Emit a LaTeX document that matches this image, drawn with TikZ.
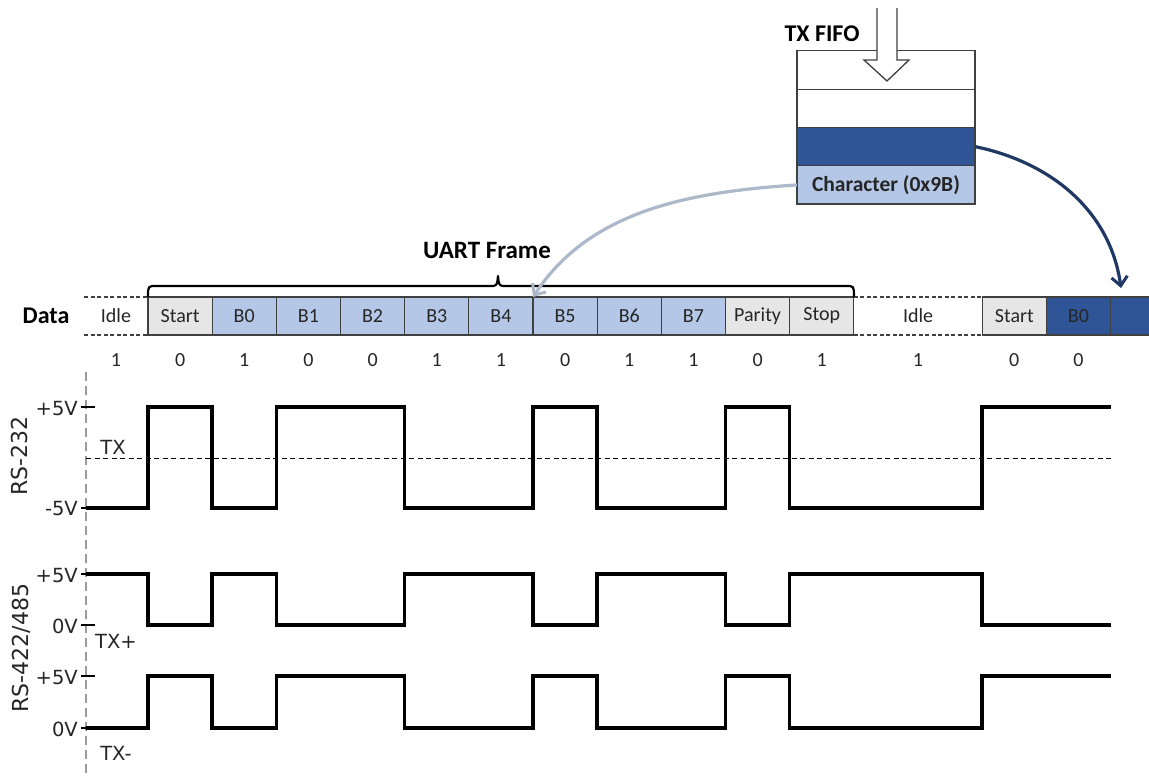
\documentclass[tikz,border=0pt]{standalone}
\usepackage{fontspec}
\setmainfont{Carlito}
\newfontfamily\dvs{DejaVu Sans}
\usetikzlibrary{arrows.meta}
\definecolor{lblue}{HTML}{B4C7E7}
\definecolor{dblue}{HTML}{2F5597}
\definecolor{lgray}{HTML}{E7E6E6}
\definecolor{bord}{HTML}{404040}
\definecolor{txt}{HTML}{262626}
\definecolor{arrdark}{HTML}{203864}
\definecolor{arrlight}{HTML}{ADB9CA}
\definecolor{vgray}{HTML}{9A9A9A}
\tikzset{
  cell/.style={draw=bord, line width=1.2pt, minimum width=64.17pt, minimum height=38pt,
    inner sep=0pt, outer sep=0pt, font=\fontsize{20}{22}\selectfont, text=txt},
  idlecell/.style={minimum height=38pt, inner sep=0pt, outer sep=0pt,
    font=\fontsize{20}{22}\selectfont, text=txt},
  num/.style={font=\fontsize{20}{22}\selectfont, text=txt, inner sep=0pt},
  fifo/.style={draw=bord, line width=1.2pt, minimum width=178pt, minimum height=38.3pt,
    inner sep=0pt, outer sep=0pt},
  wave/.style={line width=3.5pt, black},
  lab/.style={font=\dvs\fontsize{19.5}{21}\selectfont, text=txt, inner sep=0pt},
  tick/.style={line width=1.2pt, black},
  idash/.style={dashed, dash pattern=on 4pt off 2.5pt, line width=1.4pt, bord},
}
\begin{document}
\begin{tikzpicture}[x=1pt,y=-1pt]
\useasboundingbox (0,0) rectangle (1149,777);
\fill[white] (0,0) rectangle (1149,777);

% ---------- FIFO ----------
\node[fifo] (f1) at (886,70) {};
\node[fifo, anchor=north] (f2) at (f1.south) {};
\node[fifo, fill=dblue, anchor=north] (f3) at (f2.south) {};
\node[fifo, fill=lblue, anchor=north, font=\bfseries\fontsize{21.5}{23}\selectfont, text=txt] (f4) at (f3.south) {Character (0x9B)};
\node[font=\bfseries\fontsize{24}{26}\selectfont, inner sep=0pt] (tfifo) at (822,34) {TX FIFO};
% hollow input arrow
\fill[white] (877,8) -- (877,60) -- (864,60) -- (887,81) -- (909,60) -- (897,60) -- (897,8) -- cycle;
\draw[line width=1.3pt, bord] (877,8) -- (877,60) -- (864,60) -- (887,81) -- (909,60) -- (897,60) -- (897,8);

% ---------- Data row ----------
\node[font=\bfseries\fontsize{24}{26}\selectfont, inner sep=0pt] (datal) at (46,316) {Data};
\node[idlecell, minimum width=64pt] (idle1) at (116,316) {Idle};
\draw[idash] (idle1.north west) -- (idle1.north east);
\draw[idash] (idle1.south west) -- (idle1.south east);
\node[cell, fill=lgray] (st1) at (180.1,316) {Start};
\node[cell, fill=lblue] (b0) at (244.25,316) {B0};
\node[cell, fill=lblue] (b1) at (308.4,316) {B1};
\node[cell, fill=lblue] (b2) at (372.6,316) {B2};
\node[cell, fill=lblue] (b3) at (436.8,316) {B3};
\node[cell, fill=lblue] (b4) at (500.95,316) {B4};
\node[cell, fill=lblue] (b5) at (565.1,316) {B5};
\node[cell, fill=lblue] (b6) at (629.3,316) {B6};
\node[cell, fill=lblue] (b7) at (693.45,316) {B7};
\node[cell, fill=lgray] (par) at (757.6,316) {Parity};
\node[cell, fill=lgray] (stop) at (821.8,316) {Stop};
\node[idlecell, minimum width=128.3pt] (idle2) at (918.05,316) {Idle};
\draw[idash] (idle2.north west) -- (idle2.north east);
\draw[idash] (idle2.south west) -- (idle2.south east);
\node[cell, fill=lgray] (st2) at (1014.3,316) {Start};
\node[cell, fill=dblue] (nb0) at (1078.45,316) {B0};
\node[cell, fill=dblue, minimum width=45pt] (nb1) at (1133,316) {};

% numbers
\foreach \x/\v [count=\i] in {116/1,180.1/0,244.25/1,308.4/0,372.6/0,436.8/1,500.95/1,565.1/0,629.3/1,693.45/1,757.6/0,821.8/1,918.05/1,1014.3/0,1078.45/0}
  \node[num] (n\i) at (\x,360) {\v};

% brace
\draw[line width=2.2pt, black, line join=round]
  (st1.north west) .. controls (148,286) .. (156,286) -- (490,286)
  .. controls (497,286) .. (498,276) .. controls (499,286) .. (506,286)
  -- (846,286) .. controls (854,286) .. (stop.north east);
\node[font=\bfseries\fontsize{25}{27}\selectfont, inner sep=0pt] (uart) at (487,250) {UART Frame};

% curved arrows
\draw[arrlight, line width=3.2pt, -{Straight Barb[length=9pt,width=16pt,line width=3pt]}]
  (f4.west) .. controls (690,192) and (590,210) .. (b4.north east);
\draw[arrdark, line width=3.2pt, -{Straight Barb[length=9pt,width=16pt,line width=3pt]}]
  (f3.east) .. controls (1050,162) and (1110,210) .. (1121,288);

% ---------- waveforms ----------
\draw[vgray, line width=1.2pt, dash pattern=on 9pt off 5pt] (86,372) -- (86,777);
\draw[dashed, dash pattern=on 5pt off 3.5pt, line width=1pt] (86,458) -- (1110.5,458);

% RS-232
\draw[wave] (86,508) -| (148,407) -| (212.2,508) -| (276.3,407) -| (404.7,508) -| (533,407) -| (597.2,508) -| (725.5,407) -| (789.7,508) -| (982.2,407) -- (1110.5,407);
% TX+
\draw[wave] (86,574) -| (148,625) -| (212.2,574) -| (276.3,625) -| (404.7,574) -| (533,625) -| (597.2,574) -| (725.5,625) -| (789.7,574) -| (982.2,625) -- (1110.5,625);
% TX-
\draw[wave] (86,728) -| (148,676) -| (212.2,728) -| (276.3,676) -| (404.7,728) -| (533,676) -| (597.2,728) -| (725.5,676) -| (789.7,728) -| (982.2,676) -- (1110.5,676);

% ticks
\foreach \y in {407,508,574,625,676,728} \draw[tick] (81,\y) -- (95,\y);

% level labels
\node[lab, anchor=east] (l1) at (78,409) {+5V};
\node[lab, anchor=east] (l2) at (78,509) {-5V};
\node[lab, anchor=east] (l3) at (78,576) {+5V};
\node[lab, anchor=east] (l4) at (78,626) {0V};
\node[lab, anchor=east] (l5) at (78,678) {+5V};
\node[lab, anchor=east] (l6) at (78,729) {0V};
\node[lab] (tx) at (113,447) {TX};
\node[lab] (txp) at (116,641) {TX+};
\node[lab] (txm) at (116,753) {TX-};
\node[lab, rotate=90, font=\dvs\fontsize{22}{24}\selectfont] (rs232) at (19.5,456) {RS-232};
\node[lab, rotate=90, font=\dvs\fontsize{22}{24}\selectfont] (rs422) at (21,648) {RS-422/485};
\end{tikzpicture}
\end{document}
